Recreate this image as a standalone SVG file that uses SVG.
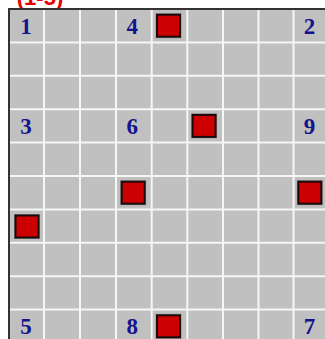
<svg xmlns="http://www.w3.org/2000/svg" width="325" height="339" viewBox="0 0 325 339">
<style>
.num{font-family:"Liberation Serif","Times New Roman",serif;font-weight:bold;font-size:23px;fill:#14148c;text-anchor:middle}
.sq{fill:#cc0000;stroke:#1a0a0a;stroke-width:2}
.halo{fill:none;stroke:#000;stroke-opacity:0.25;stroke-width:1}
.gl{stroke:#f6f6f6;stroke-width:2}
</style>
<rect width="325" height="339" fill="#ffffff"/>
<text x="40" y="4.5" font-family="Liberation Sans, Arial, sans-serif" font-weight="bold" font-size="22" fill="#e60000" text-anchor="middle">(1-5)</text>
<g id="board">
<rect x="9" y="9" width="330" height="340" fill="#c0c0c0"/>
<g id="gridlines" class="gl">
<line x1="44" y1="10" x2="44" y2="339"/>
<line x1="80" y1="10" x2="80" y2="339"/>
<line x1="116" y1="10" x2="116" y2="339"/>
<line x1="151.7" y1="10" x2="151.7" y2="339"/>
<line x1="187.3" y1="10" x2="187.3" y2="339"/>
<line x1="223" y1="10" x2="223" y2="339"/>
<line x1="258.5" y1="10" x2="258.5" y2="339"/>
<line x1="293.5" y1="10" x2="293.5" y2="339"/>
<line x1="10" y1="42.4" x2="325" y2="42.4"/>
<line x1="10" y1="75.8" x2="325" y2="75.8"/>
<line x1="10" y1="109.2" x2="325" y2="109.2"/>
<line x1="10" y1="142.6" x2="325" y2="142.6"/>
<line x1="10" y1="176" x2="325" y2="176"/>
<line x1="10" y1="209.4" x2="325" y2="209.4"/>
<line x1="10" y1="242.8" x2="325" y2="242.8"/>
<line x1="10" y1="276.2" x2="325" y2="276.2"/>
<line x1="10" y1="309.6" x2="325" y2="309.6"/>
</g>
<line x1="9" y1="9" x2="325" y2="9" stroke="#333" stroke-width="2"/>
<line x1="9" y1="8" x2="9" y2="339" stroke="#333" stroke-width="2"/>
</g>
<g id="numbers">
<text id="n1" class="num" x="26" y="33.5">1</text>
<text id="n4" class="num" x="132.2" y="33.5">4</text>
<text id="n2" class="num" x="309.5" y="33.5">2</text>
<text id="n3" class="num" x="26" y="134">3</text>
<text id="n6" class="num" x="132.2" y="134">6</text>
<text id="n9" class="num" x="309.5" y="134">9</text>
<text id="n5" class="num" x="26" y="333.5">5</text>
<text id="n8" class="num" x="132.2" y="333.5">8</text>
<text id="n7" class="num" x="309.5" y="333.5">7</text>
</g>
<g id="squares">
<g id="s1"><rect class="halo" x="156" y="13.7" width="25" height="24"/><rect class="sq" x="157" y="14.7" width="23" height="22"/></g>
<g id="s2"><rect class="halo" x="191.6" y="113.9" width="25" height="24"/><rect class="sq" x="192.6" y="114.9" width="23" height="22"/></g>
<g id="s3"><rect class="halo" x="120.7" y="180.7" width="25" height="24"/><rect class="sq" x="121.7" y="181.7" width="23" height="22"/></g>
<g id="s4"><rect class="halo" x="297.3" y="180.7" width="25" height="24"/><rect class="sq" x="298.3" y="181.7" width="23" height="22"/></g>
<g id="s5"><rect class="halo" x="14.5" y="214.5" width="25" height="24"/><rect class="sq" x="15.5" y="215.5" width="23" height="22"/></g>
<g id="s6"><rect class="halo" x="156" y="314.3" width="25" height="24"/><rect class="sq" x="157" y="315.3" width="23" height="22"/></g>
</g>
</svg>
